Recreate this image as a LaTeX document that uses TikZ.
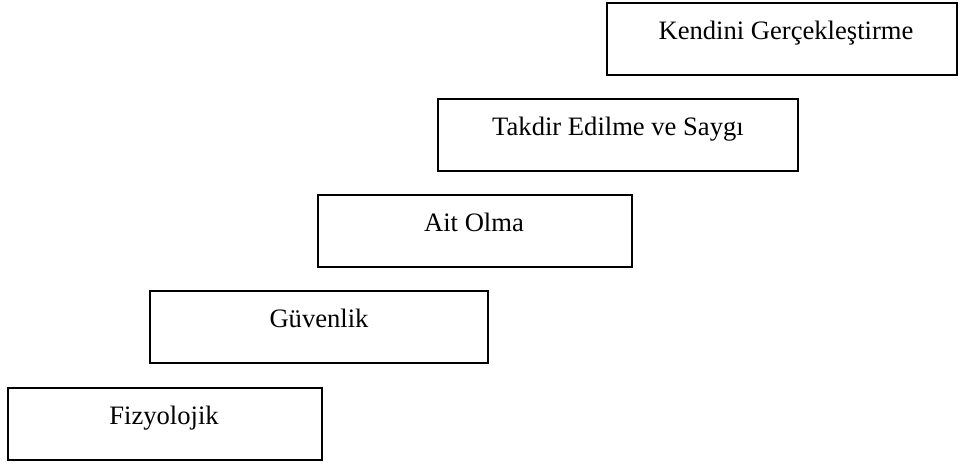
\documentclass[tikz,border=0pt]{standalone}
\usepackage{fontspec}
\setmainfont{Liberation Serif}
\begin{document}
\begin{tikzpicture}[x=1pt,y=1pt,
  stepbox/.style={draw=black,line width=1.8pt,inner sep=0pt,outer sep=0pt,minimum height=72pt},
  lbl/.style={anchor=base,inner sep=0pt,font=\fontsize{26.6}{30}\selectfont}]
\useasboundingbox (0,0) rectangle (962,-464);
\node[stepbox,minimum width=314pt] (b1) at (165,-424) {};
\node[stepbox,minimum width=338pt] (b2) at (319,-327) {};
\node[stepbox,minimum width=314pt] (b3) at (475,-231) {};
\node[stepbox,minimum width=360pt] (b4) at (618,-135) {};
\node[stepbox,minimum width=350pt] (b5) at (782,-39) {};
\node[lbl] (t1) at ([xshift=-1pt,yshift=-36pt]b1.north) {Fizyolojik};
\node[lbl] (t2) at ([yshift=-36pt]b2.north) {Güvenlik};
\node[lbl] (t3) at ([xshift=-1pt,yshift=-36pt]b3.north) {Ait Olma};
\node[lbl] (t4) at ([yshift=-36pt]b4.north) {Takdir Edilme ve Saygı};
\node[lbl] (t5) at ([xshift=4pt,yshift=-36pt]b5.north) {Kendini Gerçekleştirme};
\end{tikzpicture}
\end{document}
